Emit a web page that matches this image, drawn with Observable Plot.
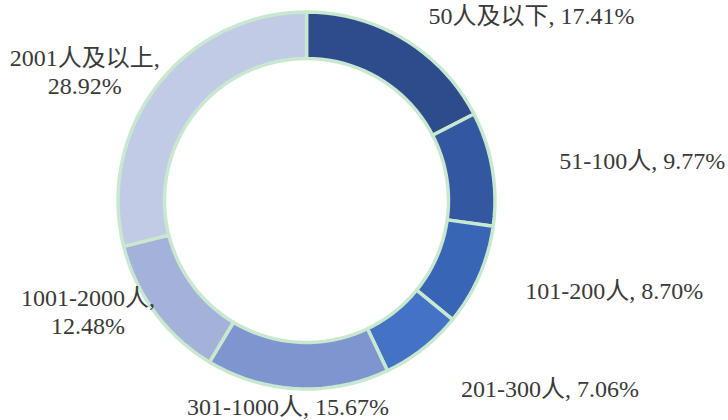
<!DOCTYPE html>
<html>
<head>
<meta charset="utf-8">
<script src="https://cdn.jsdelivr.net/npm/d3@7"></script>
<script src="https://cdn.jsdelivr.net/npm/@observablehq/plot@0.6"></script>
<style>
  html, body { margin: 0; padding: 0; background: #ffffff; }
  #chart svg { display: block; }
</style>
</head>
<body>
<div id="chart"></div>
<script>
// ---- data ----
const categories = ["50人及以下", "51-100人", "101-200人", "201-300人", "301-1000人", "1001-2000人", "2001人及以上"];
const shares = [17.41, 9.77, 8.70, 7.06, 15.67, 12.48, 28.92];
const shareLabels = ["17.41%", "9.77%", "8.70%", "7.06%", "15.67%", "12.48%", "28.92%"];

// ---- style / layout ----
const colors = ["#2e4b8b", "#3358a1", "#3865b5", "#4472c4", "#7f95cf", "#a4b2da", "#c2cbe6"];
const ringStroke = "#c8e8cf";
const outerR = 188.5, innerR = 142;
// label offsets (data units) from the slice's outer mid-point, anchor, and line break
const labelLayout = [
  {dx: 24, dy: 23, anchor: "start", wrap: false},
  {dx: 67, dy: 7.5, anchor: "start", wrap: false},
  {dx: 46, dy: -15.5, anchor: "start", wrap: false},
  {dx: 38, dy: -41, anchor: "start", wrap: false},
  {dx: -9.5, dy: -17.5, anchor: "middle", wrap: false},
  {dx: -67, dy: 1.5, anchor: "middle", wrap: true},
  {dx: -73, dy: 14, anchor: "middle", wrap: true}
];

const arcs = d3.pie().sort(null).value(d => d)(shares);

// slice outlines as closed polygons (angles from 12 o'clock, clockwise)
const steps = 120;
const slicePts = [];
arcs.forEach((a, i) => {
  const n = Math.max(8, Math.ceil(steps * (a.endAngle - a.startAngle) / (2 * Math.PI)));
  for (let k = 0; k <= n; k++) {
    const t = a.startAngle + (a.endAngle - a.startAngle) * k / n;
    slicePts.push({cat: categories[i], x: outerR * Math.sin(t), y: outerR * Math.cos(t)});
  }
  for (let k = n; k >= 0; k--) {
    const t = a.startAngle + (a.endAngle - a.startAngle) * k / n;
    slicePts.push({cat: categories[i], x: innerR * Math.sin(t), y: innerR * Math.cos(t)});
  }
});

const labels = arcs.map((a, i) => {
  const m = (a.startAngle + a.endAngle) / 2;
  const L = labelLayout[i];
  return {
    x: outerR * Math.sin(m) + L.dx,
    y: outerR * Math.cos(m) + L.dy,
    text: categories[i] + "," + (L.wrap ? "\n" : " ") + shareLabels[i],
    anchor: L.anchor
  };
});

const font = "'Liberation Serif', 'Times New Roman', 'Noto Sans CJK SC', serif";

const chart = Plot.plot({
  width: 728,
  height: 420,
  margin: 0,
  style: {background: "#ffffff", fontFamily: font},
  x: {domain: [-306, 422], range: [0, 728], axis: null},
  y: {domain: [-220, 200], range: [420, 0], axis: null},
  color: {domain: categories, range: colors},
  marks: [
    Plot.line(slicePts, {
      x: "x", y: "y", z: "cat", fill: "cat",
      stroke: ringStroke, strokeWidth: 3.5, strokeLinejoin: "round",
      curve: "linear-closed"
    }),
    Plot.text(labels.filter(d => d.anchor === "start"), {
      x: "x", y: "y", text: "text", textAnchor: "start",
      fontSize: 24, fill: "#3a3a3a", fontFamily: font
    }),
    Plot.text(labels.filter(d => d.anchor === "middle"), {
      x: "x", y: "y", text: "text", textAnchor: "middle", lineHeight: 1.17,
      fontSize: 24, fill: "#3a3a3a", fontFamily: font
    })
  ]
});
document.getElementById("chart").appendChild(chart);
</script>
</body>
</html>
